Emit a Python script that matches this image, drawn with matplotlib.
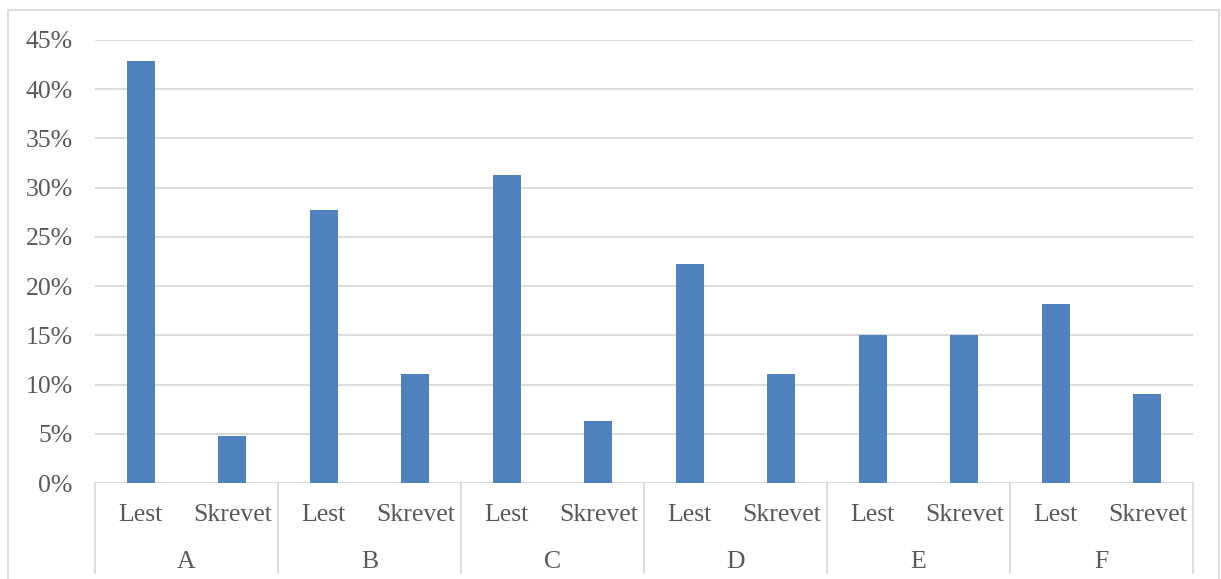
import numpy as np
import matplotlib.pyplot as plt
from matplotlib.patches import Rectangle
from matplotlib.ticker import FuncFormatter

# shares per group, read and written
groups = ["A", "B", "C", "D", "E", "F"]
kinds = ["Lest", "Skrevet"]
lest = [42.86, 27.78, 31.25, 22.22, 15.0, 18.18]
skrevet = [4.76, 11.11, 6.25, 11.11, 15.0, 9.09]

bar_color = "#4F81BD"
grid_color = "#D9D9D9"
text_color = "#595959"

plt.rcParams["font.family"] = ["Liberation Serif", "DejaVu Serif"]

values = []
labels = []
for a, b in zip(lest, skrevet):
    values += [a, b]
    labels += kinds
x = np.arange(len(values))

fig = plt.figure(figsize=(12.21, 5.79), dpi=100)
ax = fig.add_axes([95 / 1221, 1 - 483 / 579, 1098 / 1221, 443 / 579])

# chart frame
fig.patches.append(Rectangle((8 / 1221, -0.1), 1211 / 1221, 1.1 - 10 / 579,
                             transform=fig.transFigure, fill=False,
                             edgecolor=grid_color, linewidth=1.3))

ax.bar(x, values, width=0.31, color=bar_color, zorder=3)

ax.set_xlim(-0.5, len(values) - 0.5)
ax.set_ylim(0, 45)
ax.set_yticks(np.arange(0, 46, 5))
ax.yaxis.set_major_formatter(FuncFormatter(lambda v, p: f"{v:.0f}%"))
ax.grid(axis="y", color=grid_color, linewidth=1.3, zorder=0)
ax.tick_params(axis="y", length=0, pad=16, labelsize=18.5, labelcolor=text_color)
ax.set_xticks([])
for s in ax.spines.values():
    s.set_visible(False)

# two-level category axis
trans = ax.get_xaxis_transform()
for xi, lab in zip(x, labels):
    ax.text(xi, -0.073, lab, transform=trans, ha="center", va="center",
            fontsize=18.5, color=text_color)
for gi, g in enumerate(groups):
    ax.text(2 * gi + 0.5, -0.178, g, transform=trans, ha="center", va="center",
            fontsize=18.5, color=text_color)
for sep in np.arange(-0.5, len(values), 2):
    ax.plot([sep, sep], [0, -0.203], transform=trans, color=grid_color,
            linewidth=1.3, clip_on=False)

fig.savefig("out.png", dpi=100)
